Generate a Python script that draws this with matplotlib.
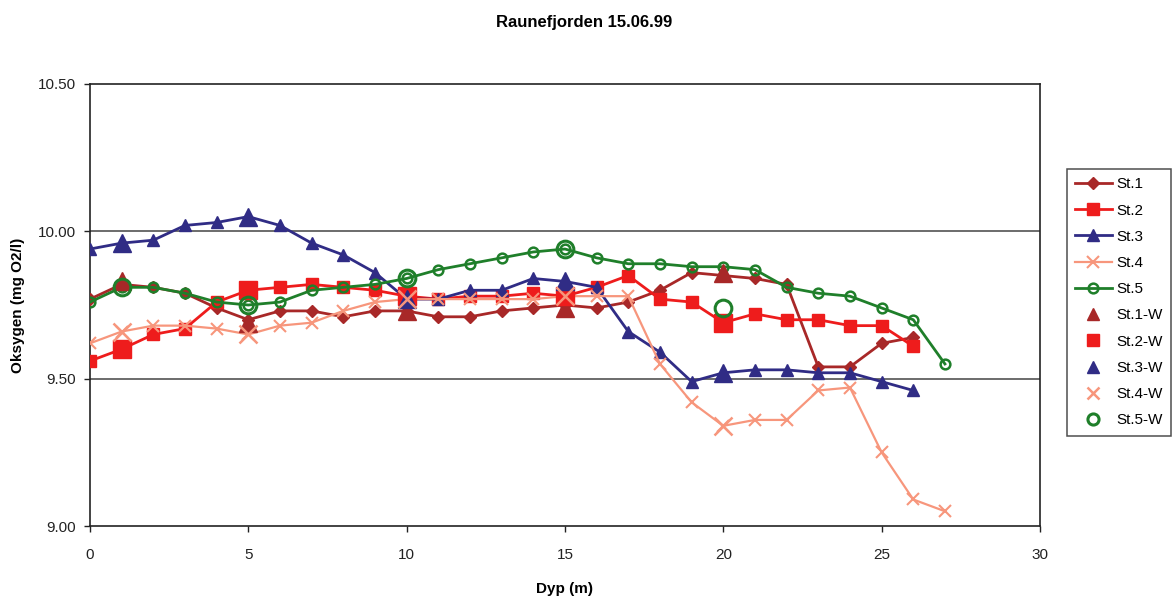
import matplotlib
matplotlib.use("Agg")
import matplotlib.pyplot as plt

depth = list(range(0, 28))
st1 = [9.77, 9.82, 9.81, 9.79, 9.74, 9.70, 9.73, 9.73, 9.71, 9.73, 9.73, 9.71, 9.71, 9.73,
       9.74, 9.75, 9.74, 9.76, 9.80, 9.86, 9.85, 9.84, 9.82, 9.54, 9.54, 9.62, 9.64]
st2 = [9.56, 9.60, 9.65, 9.67, 9.76, 9.80, 9.81, 9.82, 9.81, 9.80, 9.78, 9.77, 9.78, 9.78,
       9.79, 9.78, 9.81, 9.85, 9.77, 9.76, 9.69, 9.72, 9.70, 9.70, 9.68, 9.68, 9.61]
st3 = [9.94, 9.96, 9.97, 10.02, 10.03, 10.05, 10.02, 9.96, 9.92, 9.86, 9.77, 9.77, 9.80, 9.80,
       9.84, 9.83, 9.81, 9.66, 9.59, 9.49, 9.52, 9.53, 9.53, 9.52, 9.52, 9.49, 9.46]
st4 = [9.62, 9.66, 9.68, 9.68, 9.67, 9.65, 9.68, 9.69, 9.73, 9.76, 9.77, 9.77, 9.77, 9.77,
       9.77, 9.78, 9.78, 9.78, 9.55, 9.42, 9.34, 9.36, 9.36, 9.46, 9.47, 9.25, 9.09, 9.05]
st5 = [9.76, 9.81, 9.81, 9.79, 9.76, 9.75, 9.76, 9.80, 9.81, 9.82, 9.84, 9.87, 9.89, 9.91,
       9.93, 9.94, 9.91, 9.89, 9.89, 9.88, 9.88, 9.87, 9.81, 9.79, 9.78, 9.74, 9.70, 9.55]

w_depth = [1, 5, 10, 15, 20]
st1_w = [9.83, 9.69, 9.73, 9.74, 9.86]
st2_w = [9.60, 9.80, 9.78, 9.78, 9.69]
st3_w = [9.96, 10.05, 9.77, 9.83, 9.52]
st4_w = [9.66, 9.65, 9.77, 9.78, 9.34]
st5_w = [9.81, 9.75, 9.84, 9.94, 9.74]

labels = ["St.1", "St.2", "St.3", "St.4", "St.5"]
w_labels = ["St.1-W", "St.2-W", "St.3-W", "St.4-W", "St.5-W"]
x_ticks = [0, 5, 10, 15, 20, 25, 30]
y_ticks = [9.00, 9.50, 10.00, 10.50]

plt.rcParams['font.family'] = ['Liberation Sans', 'DejaVu Sans']

c1 = "#A82828"
c2 = "#EE1C1C"
c3 = "#302C85"
c4 = "#F7967C"
c5 = "#1F7F2A"

fig = plt.figure(figsize=(11.76, 5.97), dpi=100)
ax = fig.add_axes([0.0765, 0.1189, 0.8078, 0.7404])

series = [st1, st2, st3, st4, st5]
colors = [c1, c2, c3, c4, c5]
markers = ['D', 's', '^', 'x', 'o']
msizes = [6, 8, 8, 9, 7]
handles = []
for s, c, m, ms, lab in zip(series, colors, markers, msizes, labels):
    kw = dict(color=c, lw=2, marker=m, markersize=ms, label=lab)
    if m == 'o':
        kw.update(markerfacecolor='none', markeredgewidth=1.8)
    elif m == 'x':
        kw.update(markeredgewidth=1.5, lw=1.6)
    else:
        kw.update(markeredgecolor=c)
    h, = ax.plot(depth[:len(s)], s, zorder=3, **kw)
    handles.append(h)

w_series = [st1_w, st2_w, st3_w, st4_w, st5_w]
w_markers = ['^', 's', '^', 'x', 'o']
w_sizes = [13, 13, 13, 13, 12]
for s, c, m, ms, lab in zip(w_series, colors, w_markers, w_sizes, w_labels):
    kw = dict(color=c, linestyle='none', marker=m, markersize=ms, label=lab)
    if m == 'o':
        kw.update(markerfacecolor='none', markeredgewidth=2.2)
    elif m == 'x':
        kw.update(markeredgewidth=1.8)
    h, = ax.plot(w_depth, s, zorder=4, **kw)
    handles.append(h)

ax.set_xlim(0, 30)
ax.set_ylim(9.0, 10.5)
ax.set_xticks(x_ticks)
ax.set_yticks(y_ticks)
ax.set_yticklabels([f"{v:.2f}" for v in y_ticks])
ax.tick_params(axis='x', direction='out', length=4, width=1, pad=12,
               labelsize=11, colors='#222222')
ax.tick_params(axis='y', direction='out', length=4, width=1, pad=6,
               labelsize=11, colors='#222222')
for sp in ax.spines.values():
    sp.set_color('#222222')
    sp.set_linewidth(1.2)
for yv in [9.5, 10.0]:
    ax.axhline(yv, color='#444444', lw=1.1, zorder=1)

ax.set_xlabel("Dyp (m)", fontsize=11, fontweight='bold', labelpad=14)
ax.set_ylabel("Oksygen (mg O2/l)", fontsize=11, fontweight='bold', labelpad=9)
fig.text(0.497, 0.962, "Raunefjorden 15.06.99", ha='center', va='center',
         fontsize=12, fontweight='bold')

leg = ax.legend(handles=handles, loc='upper left', bbox_to_anchor=(0.907, 0.717),
                bbox_transform=fig.transFigure, frameon=True, fancybox=False,
                edgecolor='#222222', fontsize=11, labelspacing=0.80,
                handlelength=2.4, handletextpad=0.3, borderpad=0.55,
                borderaxespad=0.0, markerscale=1)
leg.get_frame().set_linewidth(1.1)
for lh in leg.legend_handles[5:]:
    lh.set_markersize(8)

fig.savefig("out.png", dpi=100)
